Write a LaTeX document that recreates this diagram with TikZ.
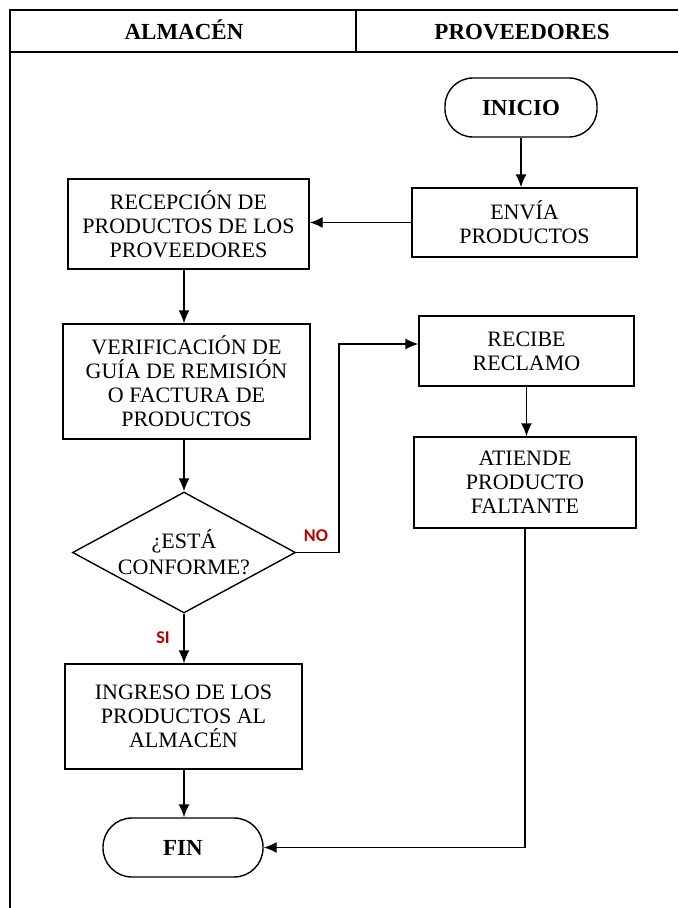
\documentclass[tikz,border=0pt]{standalone}
\usepackage{fontspec}
\setmainfont{Liberation Serif}
\newfontfamily\labfont{Carlito}
\usetikzlibrary{arrows.meta,shapes.geometric}
\begin{document}
\begin{tikzpicture}[x=1pt,y=-1pt,
  line width=1.4pt,
  boxnode/.style={draw, rectangle, align=center, inner sep=2pt,
    font=\fontsize{22}{24}\selectfont},
  termnode/.style={draw, rectangle, rounded corners=28pt, align=center,
    font=\fontsize{23}{26}\selectfont\bfseries},
  headnode/.style={anchor=base, font=\fontsize{23}{26}\selectfont\bfseries},
  decnode/.style={draw, diamond, shape aspect=1.84, inner sep=0pt, align=center,
    minimum width=223pt, minimum height=121pt,
    font=\fontsize{22}{26}\selectfont},
  lab/.style={font=\fontsize{18}{20}\selectfont\labfont\bfseries, text=red!70!black},
  arr/.style={-{Latex[length=13pt,width=11pt]}}]
\useasboundingbox (0,0) rectangle (678,908);
\fill[white] (0,0) rectangle (678,908);
% frame
\draw (10,908) -- (10,10) -- (678,10);
\draw (10,52) -- (678,52);
\draw (356,10) -- (356,52);
\node[headnode] (hA) at (184,39) {ALMAC\'EN};
\node[headnode] (hP) at (522,39) {PROVEEDORES};
% nodes
\node[termnode, minimum width=152pt, minimum height=59pt] (inicio) at (521,107.5) {INICIO};
\node[boxnode, minimum width=225pt, minimum height=69pt] (envia) at (524.5,222.5) {ENV\'IA\\PRODUCTOS};
\node[boxnode, minimum width=241pt, minimum height=90pt] (recep) at (188.5,224) {RECEPCI\'ON DE\\PRODUCTOS DE LOS\\PROVEEDORES};
\node[boxnode, minimum width=247pt, minimum height=115pt] (verif) at (186.5,381.5) {VERIFICACI\'ON DE\\GU\'IA DE REMISI\'ON\\O FACTURA DE\\PRODUCTOS};
\node[decnode] (dec) at (184,552.5) {¿EST\'A\\CONFORME?};
\node[boxnode, minimum width=215pt, minimum height=70pt] (recibe) at (526.5,351) {RECIBE\\RECLAMO};
\node[boxnode, minimum width=222pt, minimum height=91pt] (atiende) at (525,482.5) {ATIENDE\\PRODUCTO\\FALTANTE};
\node[boxnode, minimum width=237pt, minimum height=105pt] (ingreso) at (183.5,716.5) {INGRESO DE LOS\\PRODUCTOS AL\\ALMAC\'EN};
\node[termnode, rounded corners=29pt, minimum width=160pt, minimum height=59pt] (fin) at (183,847.5) {FIN};
% labels
\node[lab] (no) at (316,536) {NO};
\node[lab] (si) at (163,638) {SI};
% connectors
\draw[arr] (inicio.south) -- (inicio.south |- envia.north);
\draw[arr] (envia.west) -- (envia.west -| recep.east);
\draw[arr] (recep.south -| dec.north) -- (dec.north |- verif.north);
\draw[arr] (dec.north |- verif.south) -- (dec.north);
\coordinate (nocorner) at (339,552.5);
\coordinate (recin) at ([yshift=7pt]recibe.west);
\draw[arr] (dec.east) -- (nocorner) |- (recin);
\draw[arr] (recibe.south) -- (recibe.south |- atiende.north);
\draw[arr] (dec.south) -- (dec.south |- ingreso.north);
\draw[arr] (dec.south |- ingreso.south) -- (dec.south |- fin.north);
\draw[arr] (atiende.south) |- (fin.east);
\end{tikzpicture}
\end{document}
